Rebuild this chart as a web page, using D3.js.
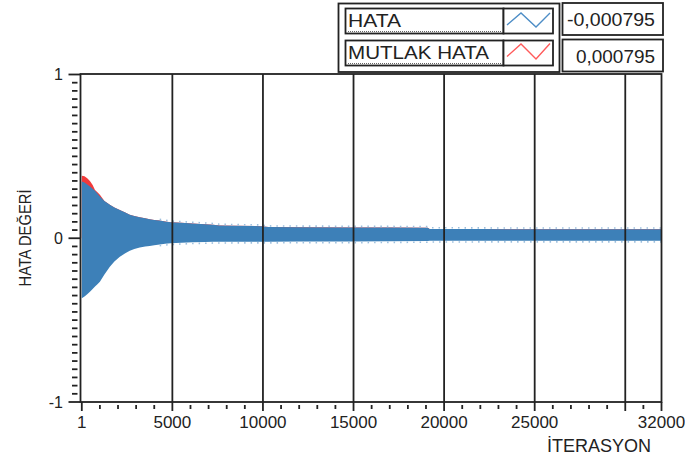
<!DOCTYPE html>
<html>
<head>
<meta charset="utf-8">
<script src="https://cdn.jsdelivr.net/npm/d3@7"></script>
<style>
  html, body { margin: 0; padding: 0; background: #fff; }
  svg { display: block; font-family: "Liberation Sans", Arial, sans-serif; }
</style>
</head>
<body>
<svg id="chart" width="685" height="459"></svg>
<script>
// Iteration checkpoints where the signal envelope is sampled
const iterations = [1, 150, 300, 450, 600, 730, 850, 1000, 1250, 1550, 1800, 2100, 2400, 2650, 2900,
  3200, 3500, 3750, 4000, 4300, 4600, 4900, 5500, 6100, 6800, 7250, 7600, 8500, 9900, 10300,
  12000, 14800, 17000, 19100, 19200, 22000, 24200, 27000, 30000, 32000];

// HATA: upper and lower envelope of the oscillating error
const hataUpper = [0.347, 0.340, 0.328, 0.316, 0.302, 0.290, 0.275, 0.255, 0.228, 0.204, 0.188, 0.173, 0.157, 0.143, 0.136,
  0.129, 0.122, 0.116, 0.112, 0.108, 0.103, 0.098, 0.094, 0.090, 0.086, 0.083, 0.078, 0.076, 0.074, 0.068,
  0.067, 0.066, 0.065, 0.064, 0.057, 0.056, 0.055, 0.055, 0.055, 0.055];
const hataLower = [-0.367, -0.355, -0.342, -0.327, -0.310, -0.295, -0.283, -0.266, -0.222, -0.174, -0.142, -0.113, -0.092, -0.076, -0.066,
  -0.057, -0.051, -0.047, -0.043, -0.038, -0.034, -0.031, -0.028, -0.025, -0.023, -0.022, -0.022, -0.021, -0.021, -0.021,
  -0.020, -0.020, -0.018, -0.017, -0.016, -0.015, -0.015, -0.015, -0.015, -0.015];

// MUTLAK HATA: peak of the absolute error
const mutlakHata = [0.381, 0.378, 0.366, 0.350, 0.325, 0.295, 0.283, 0.266, 0.228, 0.204, 0.188, 0.173, 0.157, 0.143, 0.136,
  0.129, 0.122, 0.116, 0.112, 0.108, 0.103, 0.098, 0.094, 0.090, 0.086, 0.083, 0.078, 0.076, 0.074, 0.068,
  0.067, 0.066, 0.065, 0.064, 0.057, 0.056, 0.055, 0.055, 0.055, 0.055];

// Axis ticks
const xMajorTicks = [1, 5000, 10000, 15000, 20000, 25000, 30000, 32000];
const xTickLabels = ["1", "5000", "10000", "15000", "20000", "25000", "", "32000"];
const xGridLines = [5000, 10000, 15000, 20000, 25000, 30000];
const yMajorTicks = [-1, 0, 1];
const yTickLabels = ["-1", "0", "1"];

// Legend entries and current values
const seriesNames = ["HATA", "MUTLAK HATA"];
const seriesValues = ["-0,000795", "0,000795"];

const colBlue = "#3d80b8";
const colRed = "#f23a3a";
const ink = "#222";

const svg = d3.select("#chart");

const x = d3.scaleLinear().domain([1, 32000]).range([81.8, 661.5]);
const y = d3.scaleLinear().domain([-1, 1]).range([402, 74.5]);

const frameL = 80.5, frameR = 661.5, frameT = 74, frameB = 402;

// Absolute error band (drawn first, sits behind the signed error)
const rows = iterations.map((it, i) => ({ it, up: hataUpper[i], lo: hataLower[i], abs: mutlakHata[i] }));

svg.append("path")
  .datum(rows)
  .attr("fill", colRed)
  .attr("d", d3.area().x(d => x(d.it)).y0(y(0)).y1(d => y(d.abs)));

// Signed error band
svg.append("path")
  .datum(rows)
  .attr("fill", colBlue)
  .attr("d", d3.area().x(d => x(d.it)).y0(d => y(d.lo)).y1(d => y(d.up)));

// Speckled fringe from the dense oscillation along the band edges
const edgeLine = key => d3.line().x(d => x(d.it)).y(d => y(d[key]));
[["up", -1], ["lo", 1]].forEach(([key, dir]) => {
  svg.append("path")
    .datum(rows.filter(d => d.it > 4000))
    .attr("fill", "none")
    .attr("stroke", "#9dbfdd")
    .attr("stroke-width", 1.6)
    .attr("stroke-dasharray", "1.5,5")
    .attr("transform", `translate(0,${dir * 1.2})`)
    .attr("d", edgeLine(key));
});

// Vertical grid lines
svg.append("g").selectAll("line")
  .data(xGridLines).join("line")
  .attr("x1", d => x(d)).attr("x2", d => x(d))
  .attr("y1", frameT).attr("y2", frameB)
  .attr("stroke", ink).attr("stroke-width", 1.8);

// Plot frame
svg.append("rect")
  .attr("x", frameL).attr("y", frameT)
  .attr("width", frameR - frameL).attr("height", frameB - frameT)
  .attr("fill", "none").attr("stroke", ink).attr("stroke-width", 1.8);

// X axis ticks
const xMinor = d3.range(1000, 32000, 1000).filter(v => !xMajorTicks.includes(v));
svg.append("g").selectAll("line")
  .data(xMinor).join("line")
  .attr("x1", d => x(d)).attr("x2", d => x(d))
  .attr("y1", frameB + 3).attr("y2", frameB + 7)
  .attr("stroke", ink).attr("stroke-width", 1.8);
svg.append("g").selectAll("line")
  .data(xMajorTicks).join("line")
  .attr("x1", d => x(d)).attr("x2", d => x(d))
  .attr("y1", frameB).attr("y2", frameB + 9)
  .attr("stroke", ink).attr("stroke-width", 1.8);
svg.append("g").selectAll("text")
  .data(xMajorTicks).join("text")
  .attr("x", d => x(d)).attr("y", 428)
  .attr("text-anchor", "middle")
  .attr("font-size", 17).attr("fill", ink)
  .text((d, i) => xTickLabels[i]);

// Y axis ticks
const yMinor = d3.range(-0.95, 1, 0.05).map(v => +v.toFixed(2)).filter(v => !yMajorTicks.includes(v));
svg.append("g").selectAll("line")
  .data(yMinor).join("line")
  .attr("x1", frameL - 8.5).attr("x2", frameL - 3)
  .attr("y1", d => y(d)).attr("y2", d => y(d))
  .attr("stroke", ink).attr("stroke-width", 1.8);
svg.append("g").selectAll("line")
  .data(yMajorTicks).join("line")
  .attr("x1", frameL - 12).attr("x2", frameL)
  .attr("y1", d => y(d)).attr("y2", d => y(d))
  .attr("stroke", ink).attr("stroke-width", 1.8);
svg.append("g").selectAll("text")
  .data(yMajorTicks).join("text")
  .attr("x", 63).attr("y", d => y(d))
  .attr("dy", "0.36em")
  .attr("text-anchor", "end")
  .attr("font-size", 16).attr("fill", ink)
  .text((d, i) => yTickLabels[i]);

// Axis titles
svg.append("text")
  .attr("x", 599).attr("y", 452)
  .attr("text-anchor", "middle")
  .attr("font-size", 18).attr("fill", ink)
  .text("İTERASYON");
svg.append("text")
  .attr("transform", "translate(31,238) rotate(-90)")
  .attr("text-anchor", "middle")
  .attr("font-size", 16).attr("fill", ink)
  .attr("textLength", 97).attr("lengthAdjust", "spacingAndGlyphs")
  .text("HATA DEĞERİ");

// Legend
const legend = svg.append("g");
legend.append("rect")
  .attr("x", 338.5).attr("y", 3.5).attr("width", 221).attr("height", 68.5)
  .attr("fill", "#fff").attr("stroke", ink).attr("stroke-width", 1.8);

const rowTop = [8.5, 40.5];
const nameWidths = [53, 141];
const valueWidths = [88, 79];
const sampleY = [[25, 13, 27, 13], [56.5, 44, 59, 43.5]];
const sampleX = [507, 521, 536, 550];
const sampleCol = ["#4d8dc6", "#ff5a5a"];

seriesNames.forEach((name, i) => {
  const t = rowTop[i];
  legend.append("rect")
    .attr("x", 345.5).attr("y", t).attr("width", 158).attr("height", 25)
    .attr("fill", "#fff").attr("stroke", ink).attr("stroke-width", 1.8);
  legend.append("rect")
    .attr("x", 503.5).attr("y", t).attr("width", 49.5).attr("height", 25)
    .attr("fill", "#fff").attr("stroke", ink).attr("stroke-width", 1.8);
  legend.append("line")
    .attr("x1", 348).attr("x2", 501).attr("y1", t + 23).attr("y2", t + 23)
    .attr("stroke", "#666").attr("stroke-width", 1).attr("stroke-dasharray", "1,1");
  legend.append("text")
    .attr("x", 348).attr("y", t + 18)
    .attr("font-size", 17.5).attr("fill", ink)
    .attr("textLength", nameWidths[i]).attr("lengthAdjust", "spacingAndGlyphs")
    .text(name);
  legend.append("polyline")
    .attr("points", sampleX.map((sx, k) => `${sx},${sampleY[i][k]}`).join(" "))
    .attr("fill", "none").attr("stroke", sampleCol[i]).attr("stroke-width", 1.4);

  // value display box
  const vt = i === 0 ? 3 : 39.5;
  legend.append("rect")
    .attr("x", 562.5).attr("y", vt).attr("width", 100.5).attr("height", 32)
    .attr("fill", "#fff").attr("stroke", ink).attr("stroke-width", 1.8);
  legend.append("text")
    .attr("x", 655).attr("y", vt + 23)
    .attr("text-anchor", "end")
    .attr("font-size", 17.5).attr("fill", ink)
    .attr("textLength", valueWidths[i]).attr("lengthAdjust", "spacingAndGlyphs")
    .text(seriesValues[i]);
});
</script>
</body>
</html>
